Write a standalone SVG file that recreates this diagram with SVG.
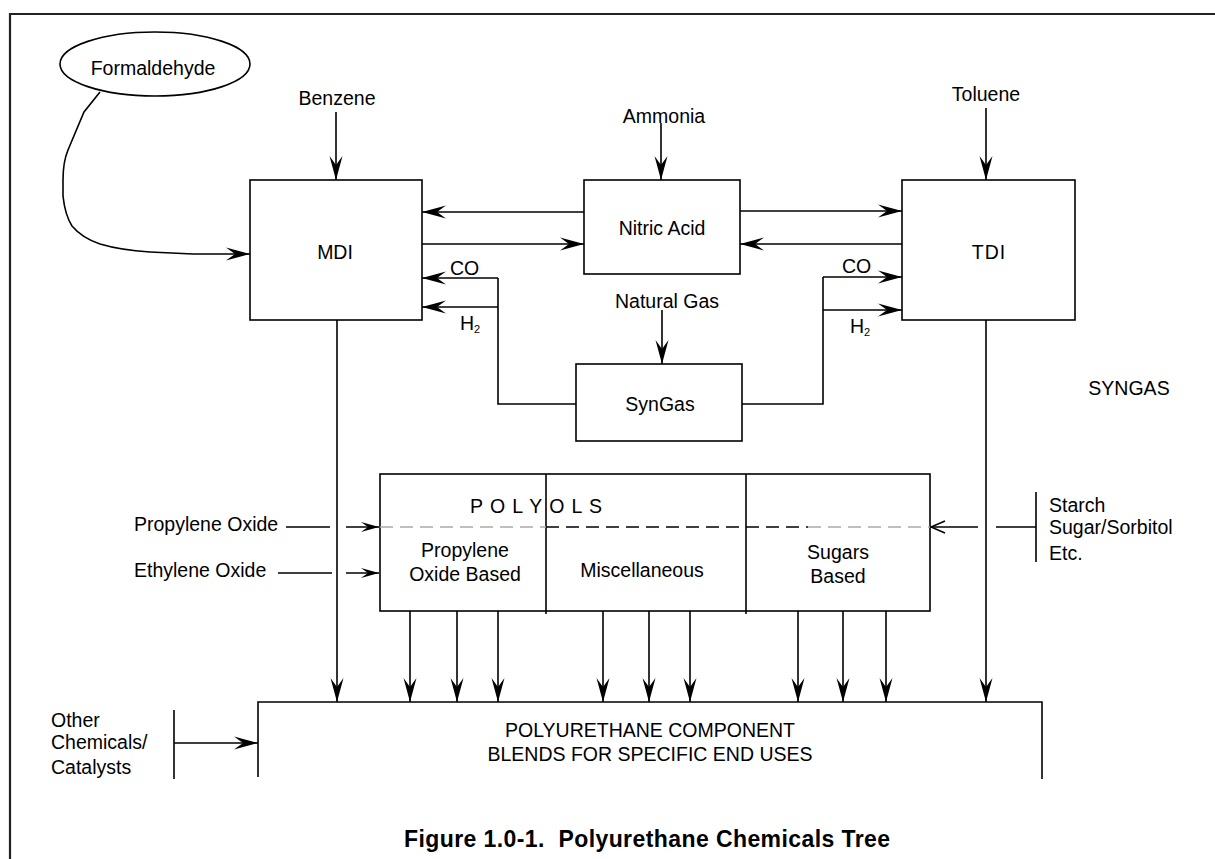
<svg xmlns="http://www.w3.org/2000/svg" width="1215" height="859" viewBox="0 0 1215 859">
<defs>
<style>
.t{font-family:"Liberation Sans",Arial,sans-serif;font-size:19.5px;fill:#000}
.m{text-anchor:middle}
.ln{fill:none;stroke:#000;stroke-width:1.6}
.bx{fill:#fff;stroke:#000;stroke-width:1.6}
.big{marker-end:url(#ah)}
.sm{marker-end:url(#as)}
.cap{font-family:"Liberation Sans",Arial,sans-serif;font-size:23px;font-weight:bold;fill:#000}
</style>
<marker id="ah" viewBox="-26 -8 28 16" markerWidth="28" markerHeight="16" refX="0" refY="0" orient="auto" markerUnits="userSpaceOnUse">
<path d="M0,0 L-24,-6.5 L-15,0 L-24,6.5 Z" fill="#000"/>
</marker>
<marker id="as" viewBox="-20 -6 22 12" markerWidth="22" markerHeight="12" refX="0" refY="0" orient="auto" markerUnits="userSpaceOnUse">
<path d="M0,0 L-18,-5 L-11,0 L-18,5 Z" fill="#000"/>
</marker>
<marker id="ao" viewBox="-18 -8 20 16" markerWidth="20" markerHeight="16" refX="0" refY="0" orient="auto" markerUnits="userSpaceOnUse">
<path d="M-14,-6 L0,0 L-14,6" fill="none" stroke="#000" stroke-width="1.5"/>
</marker>
</defs>
<rect x="0" y="0" width="1215" height="859" fill="#fff"/>
<path d="M10,859 V14 H1215" fill="none" stroke="#222" stroke-width="2.2"/>

<g id="connectors">
<path class="ln big" d="M100,92 L84,112 L68,150 Q63,162 63,180 L63,196 Q65,215 72,226 Q82,238 100,244 Q120,250 150,252 L193,254 L250,254"/>
<path class="ln big" d="M336,112 V180"/>
<path class="ln big" d="M661,123 V180"/>
<path class="ln big" d="M986,108 V180"/>
<path class="ln big" d="M587,212 H422"/>
<path class="ln big" d="M422,244 H584"/>
<path class="ln big" d="M740,211 H902"/>
<path class="ln big" d="M902,244 H740"/>
<path class="ln" d="M576,404 H498 V278"/>
<path class="ln big" d="M498,278 H422"/>
<path class="ln big" d="M498,307 H422"/>
<path class="ln big" d="M662,310 V364"/>
<path class="ln" d="M742,404 H823 V277"/>
<path class="ln big" d="M823,277 H902"/>
<path class="ln big" d="M823,310 H902"/>
<path class="ln big" d="M337,320 V702"/>
<path class="ln big" d="M986,320 V702"/>
<path class="ln" d="M286,527 H330 M278,573 H332"/>
<path class="ln sm" d="M346,527 H379"/>
<path class="ln sm" d="M346,573 H379"/>
<path class="ln" d="M996,527 H1036 M1036,492 V562"/>
<path class="ln" d="M978,527 H931" marker-end="url(#ao)"/>
<path class="ln big" d="M410,611 V702"/>
<path class="ln big" d="M457,611 V702"/>
<path class="ln big" d="M498,611 V702"/>
<path class="ln big" d="M603,611 V702"/>
<path class="ln big" d="M649,611 V702"/>
<path class="ln big" d="M690,611 V702"/>
<path class="ln big" d="M798,611 V702"/>
<path class="ln big" d="M843,611 V702"/>
<path class="ln big" d="M886,611 V702"/>
<path class="ln" d="M174,710 V779"/>
<path class="ln big" d="M174,743 H258"/>
</g>

<g id="formaldehyde">
<ellipse cx="155" cy="64" rx="95" ry="32" class="bx"/>
<text class="t m" x="153" y="75">Formaldehyde</text>
</g>
<g id="benzene"><text class="t m" x="337" y="105">Benzene</text></g>
<g id="ammonia"><text class="t m" x="664" y="123">Ammonia</text></g>
<g id="toluene"><text class="t m" x="986" y="101">Toluene</text></g>
<g id="mdi">
<rect x="250" y="180" width="172" height="140" class="bx"/>
<text class="t m" x="335" y="259">MDI</text>
</g>
<g id="nitric-acid">
<rect x="584" y="180" width="156" height="94" class="bx"/>
<text class="t m" x="662" y="235">Nitric Acid</text>
</g>
<g id="tdi">
<rect x="902" y="180" width="173" height="140" class="bx"/>
<text class="t m" x="989" y="259" letter-spacing="1">TDI</text>
</g>
<g id="gas-labels">
<text class="t" x="450" y="275">CO</text>
<text class="t" x="460" y="330">H<tspan font-size="11" dy="3">2</tspan></text>
<text class="t" x="842" y="273">CO</text>
<text class="t" x="850" y="333">H<tspan font-size="11" dy="3">2</tspan></text>
</g>
<g id="natural-gas"><text class="t m" x="667" y="308">Natural Gas</text></g>
<g id="syngas">
<rect x="576" y="364" width="166" height="77" class="bx"/>
<text class="t m" x="660" y="411">SynGas</text>
</g>
<g id="syngas-label"><text class="t m" x="1129" y="395">SYNGAS</text></g>

<g id="polyols">
<rect x="380" y="474" width="550" height="137" class="bx"/>
<path class="ln" d="M546,474 V614 M746,474 V614"/>
<path d="M380,527 H546 M808,527 H930" stroke="#aaa" stroke-width="1.3" stroke-dasharray="13,7" fill="none"/>
<path d="M546,527 H808" stroke="#000" stroke-width="1.3" stroke-dasharray="13,7" fill="none"/>
<text class="t" x="470" y="513" textLength="132">P O L Y O L S</text>
<text class="t m" x="465" y="557">Propylene</text>
<text class="t m" x="465" y="581">Oxide Based</text>
<text class="t m" x="642" y="577">Miscellaneous</text>
<text class="t m" x="838" y="559">Sugars</text>
<text class="t m" x="838" y="583">Based</text>
</g>
<g id="propylene-oxide"><text class="t" x="134" y="531">Propylene Oxide</text></g>
<g id="ethylene-oxide"><text class="t" x="134" y="577">Ethylene Oxide</text></g>
<g id="starch">
<text class="t" x="1049" y="512">Starch</text>
<text class="t" x="1049" y="534">Sugar/Sorbitol</text>
<text class="t" x="1049" y="560">Etc.</text>
</g>
<g id="blends">
<path class="ln" d="M258,777 V702 H1042 V779"/>
<text class="t m" x="650" y="737">POLYURETHANE COMPONENT</text>
<text class="t m" x="650" y="761">BLENDS FOR SPECIFIC END USES</text>
</g>
<g id="other-chemicals">
<text class="t" x="51" y="727">Other</text>
<text class="t" x="51" y="749">Chemicals/</text>
<text class="t" x="51" y="774">Catalysts</text>
</g>
<text class="cap" x="404" y="847" textLength="486" lengthAdjust="spacing">Figure 1.0-1.&#160; Polyurethane Chemicals Tree</text>
</svg>
